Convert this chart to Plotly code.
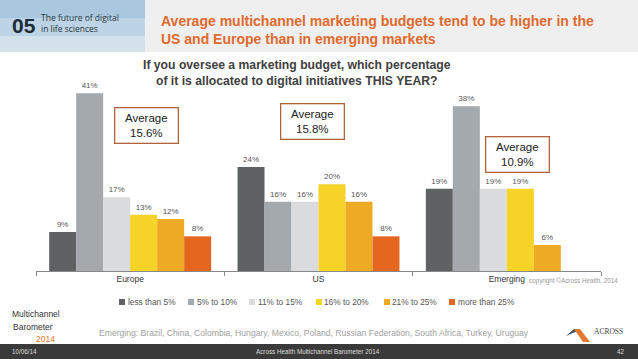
import plotly.graph_objects as go

regions = ["Europe", "US", "Emerging"]
series_names = ["less than 5%", "5% to 10%", "11% to 15%", "16% to 20%", "21% to 25%", "more than 25%"]
less_than_5 = [9, 24, 19]
five_to_10 = [41, 16, 38]
eleven_to_15 = [17, 16, 19]
sixteen_to_20 = [13, 20, 19]
twentyone_to_25 = [12, 16, 6]
more_than_25 = [8, 8, None]
averages = ["15.6%", "15.8%", "10.9%"]
colors = ["#5f6263", "#a3a9ac", "#d9dbdc", "#f5d327", "#eeaa24", "#e5661f"]

W, H = 638, 359
L, R, T, B = 36, 601, 76, 271

def px(x):
    return x / W

def py(y):
    return 1 - y / H

FONT = "Arial, Liberation Sans, sans-serif"

fig = go.Figure()
for name, vals, col in zip(series_names,
                           [less_than_5, five_to_10, eleven_to_15, sixteen_to_20, twentyone_to_25, more_than_25],
                           colors):
    fig.add_trace(go.Bar(
        x=regions, y=vals, name=name, marker_color=col, marker_line_width=0,
        text=[f"{v}%" if v is not None else "" for v in vals],
        textposition="outside", textfont=dict(size=8, color="#555555", family=FONT),
        cliponaxis=False, showlegend=False,
    ))

shapes = []
def rect(x0, y0, x1, y1, color, layer="below"):
    shapes.append(dict(type="rect", xref="paper", yref="paper",
                       x0=px(x0), x1=px(x1), y0=py(y1), y1=py(y0),
                       fillcolor=color, line_width=0, layer=layer))

# header backgrounds
rect(145, 0, 638, 52, "#efefef")
rect(0, 0, 145, 18, "#a9c8df")
rect(0, 18, 145, 36, "#bcd4e5")
rect(0, 36, 145, 52, "#d3e1eb")
# footer bar
rect(0, 344, 638, 359, "#3a3a3a")
# across logo shape
shapes.append(dict(type="path", xref="paper", yref="paper",
                   path=f"M {px(566)} {py(336)} L {px(574)} {py(329)} L {px(580)} {py(330)} Z",
                   fillcolor="#3d4f5c", line_width=0))
shapes.append(dict(type="path", xref="paper", yref="paper",
                   path=f"M {px(574)} {py(329)} L {px(580)} {py(329)} L {px(590)} {py(342)} L {px(583)} {py(342)} Z",
                   fillcolor="#e0782e", line_width=0))

ann = []
def text(x, y, s, size, color, anchor="left", bold=False, family=FONT, yanchor="middle"):
    ann.append(dict(xref="paper", yref="paper", x=px(x), y=py(y), text=(f"<b>{s}</b>" if bold else s),
                    showarrow=False, xanchor=anchor, yanchor=yanchor,
                    font=dict(size=size, color=color, family=family)))

# manual legend
legend_x = [122, 191, 252, 319, 387, 452]
LY = 302
for lx, name, col in zip(legend_x, series_names, colors):
    rect(lx - 3, LY - 3, lx + 3, LY + 3, col, layer="above")
    text(lx + 3.5, LY, name, 8.3, "#555555")

# header texts
text(10, 25, "05", 21, "#1d2b36", bold=True)
ann.append(dict(xref="paper", yref="paper", x=px(39), y=py(23), text="The future of digital<br>in life sciences",
                showarrow=False, xanchor="left", yanchor="middle", align="left",
                font=dict(size=8.5, color="#2a3540", family="Open Sans, sans-serif")))
ann.append(dict(xref="paper", yref="paper", x=px(159), y=py(30),
                text="<b>Average multichannel marketing budgets tend to be higher in the<br>US and Europe than in emerging markets</b>",
                showarrow=False, xanchor="left", yanchor="middle", align="left",
                font=dict(size=14, color="#e06a2e", family=FONT)))
ann.append(dict(xref="paper", yref="paper", x=px(297), y=py(73),
                text="<b>If you oversee a marketing budget, which percentage<br>of it is allocated to digital initiatives THIS YEAR?</b>",
                showarrow=False, xanchor="center", yanchor="middle", align="center",
                font=dict(size=12.2, color="#404040", family=FONT)))

# average boxes
for (cx, cy), a in zip([(146.5, 125.5), (312, 121), (517, 155)], averages):
    ann.append(dict(xref="paper", yref="paper", x=px(cx), y=py(cy), text=f"Average<br>{a}",
                    showarrow=False, xanchor="center", yanchor="middle", align="center",
                    width=60, height=32, bordercolor="#b0643c", borderwidth=1.3, borderpad=1,
                    bgcolor="white", font=dict(size=11.5, color="#222222", family=FONT)))

text(527, 281, "copyright ©Across Health, 2014", 6.3, "#999999")
text(314, 333, "Emerging: Brazil, China, Colombia, Hungary, Mexico, Poland, Russian Federation, South Africa, Turkey, Uruguay",
     8.6, "#a0a0a0", anchor="center")
# multichannel barometer logo
text(10, 314, "Multichannel", 8.5, "#333333")
text(11, 327, "Barometer", 8.5, "#333333")
text(34, 339, "2014", 8.5, "#e0782e")
text(592, 331, "ACROSS", 7.5, "#444444", family="Liberation Serif, serif")
# footer texts
text(10, 351.5, "10/06/14", 6.3, "#dddddd")
text(318, 351.5, "Across Health Multichannel Barometer 2014", 6.3, "#dddddd", anchor="center")
text(627, 351.5, "42", 6.3, "#dddddd", anchor="right")

fig.update_layout(
    width=W, height=H, autosize=False,
    margin=dict(l=0, r=0, t=0, b=0, pad=0),
    paper_bgcolor="white", plot_bgcolor="white",
    barmode="group", bargap=0.14, bargroupgap=0,
    font=dict(family=FONT),
    showlegend=False,
    xaxis=dict(domain=[L / W, R / W], showline=True, linecolor="#888888", linewidth=1,
               ticks="outside", tickson="boundaries", automargin=False,
               ticklen=4, tickcolor="#888888", tickfont=dict(size=8.5, color="#333333", family=FONT),
               showgrid=False, fixedrange=True),
    yaxis=dict(domain=[1 - B / H, 1 - T / H], range=[0, 45], visible=False, showgrid=False,
               fixedrange=True, automargin=False),
    shapes=shapes, annotations=ann,
)

fig.write_html("out.html", config={"displayModeBar": False, "staticPlot": True},
               post_script="document.body.style.margin='0';document.body.style.padding='0';")
